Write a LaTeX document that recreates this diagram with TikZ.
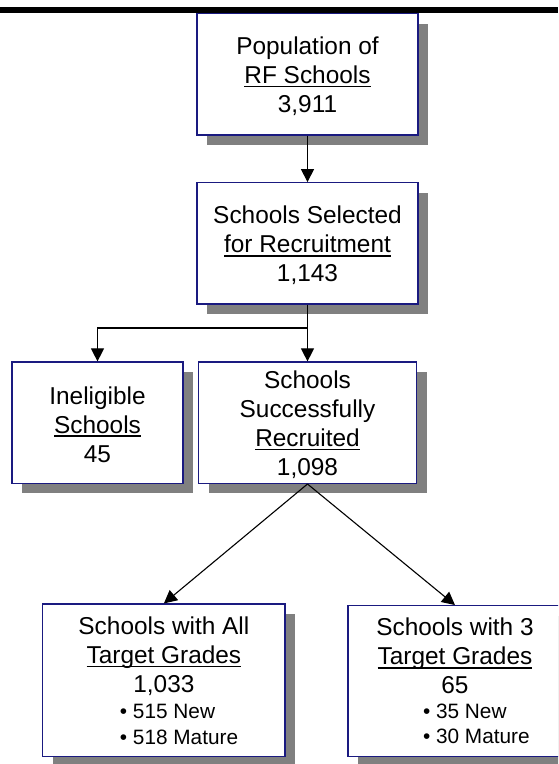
\documentclass[tikz,border=0pt]{standalone}
\usepackage{fontspec}
\setmainfont{Liberation Sans}
\usepackage{xcolor}
\usepackage{tikz}
\usetikzlibrary{arrows.meta,shadows}
\definecolor{boxnavy}{HTML}{1A1A80}
\definecolor{shadowgray}{HTML}{808080}
\newsavebox{\ulbox}
\newcommand{\ulword}[1]{\sbox\ulbox{#1}\rlap{\rule[-4.2pt]{\wd\ulbox}{1.8pt}}\usebox\ulbox}
\newcommand{\bigtext}{\fontsize{24.4}{29}\selectfont}
\newcommand{\smalltext}{\fontsize{20.8}{25}\selectfont}
\newcommand{\topgap}{\rule{0pt}{21pt}}
\tikzset{
  flowbox/.style={draw=boxnavy, line width=1.3pt, fill=white, inner sep=0pt, align=center, font=\bigtext,
    drop shadow={shadow xshift=10pt, shadow yshift=-10pt, fill=shadowgray, opacity=1}},
  flowarrow/.style={-{Triangle[length=13pt,width=13pt]}, line width=1.1pt}
}

\begin{document}
\begin{tikzpicture}[x=1pt,y=-1pt]
\useasboundingbox (0,0) rectangle (558,764);
\clip (0,0) rectangle (558,764);
% heading rule
\fill[black] (0,7) rectangle (558,13.3);
% boxes
\node[flowbox, minimum width=221pt, minimum height=121.5pt] (pop) at (307.5,74.3) {\topgap Population of\\\ulword{RF Schools}\\3,911};
\node[flowbox, minimum width=221pt, minimum height=121.3pt] (sel) at (307.5,243.4) {\topgap Schools Selected\\\ulword{for Recruitment}\\1,143};
\node[flowbox, minimum width=171pt, minimum height=121.3pt] (inel) at (97.5,422.7) {\topgap Ineligible\\\ulword{Schools}\\45};
\node[flowbox, minimum width=218pt, minimum height=121.3pt] (recr) at (307.5,422.7) {\topgap Schools\\Successfully\\\ulword{Recruited}\\1,098};
\node[flowbox, minimum width=242.3pt, minimum height=152.7pt] (allgr) at (163.9,680.4) {Schools with All\\\ulword{Target Grades}\\1,033\\[-3pt]
  {\smalltext\makebox[88pt][l]{• 515 New}}\\[-3pt]
  {\smalltext\makebox[88pt][l]{• 518 Mature}}};
\node[flowbox, minimum width=214pt, minimum height=151pt] (threegr) at (455,681.2) {Schools with 3\\\ulword{Target Grades}\\65\\[-4pt]
  {\smalltext\makebox[64pt][l]{• 35 New}}\\[-4pt]
  {\smalltext\makebox[64pt][l]{• 30 Mature}}};
% connectors
\coordinate (split) at (307.5,328);
\draw[flowarrow] (pop) -- (sel);
\draw[line width=1.1pt] (sel.south) -- (split);
\draw[flowarrow] (split) -| (inel.north);
\draw[flowarrow] (split) -- (recr.north);
\draw[flowarrow] (recr.south) -- (allgr.north);
\draw[flowarrow] (recr.south) -- (threegr.north);
\end{tikzpicture}
\end{document}
